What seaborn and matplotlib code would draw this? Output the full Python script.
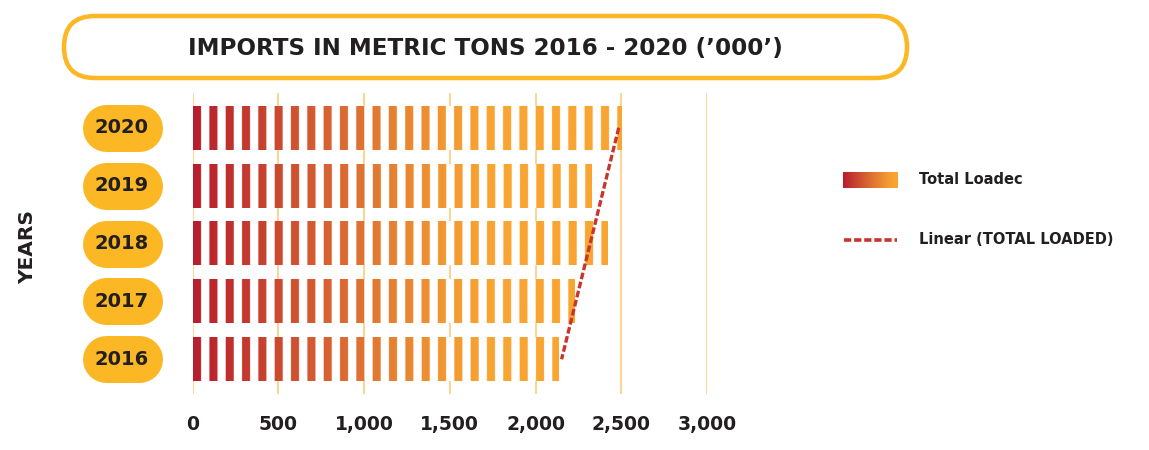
import numpy as np
import pandas as pd
import matplotlib
matplotlib.use("Agg")
import matplotlib.pyplot as plt
import seaborn as sns
from matplotlib.colors import LinearSegmentedColormap, to_rgba
from matplotlib.patches import FancyBboxPatch
from matplotlib.lines import Line2D
from matplotlib.transforms import IdentityTransform

# ---- data ----
years = ["2020", "2019", "2018", "2017", "2016"]
loaded = [2500, 2321, 2416, 2226, 2131]
x_ticks = [0, 500, 1000, 1500, 2000, 2500, 3000]
x_tick_labels = ["0", "500", "1,000", "1,500", "2,000", "2,500", "3,000"]
title = "IMPORTS IN METRIC TONS 2016 - 2020 (\u2019000\u2019)"
legend_bar = "Total Loadec"
legend_line = "Linear (TOTAL LOADED)"

# ---- style ----
sns.set_theme(style="white")
plt.rcParams["font.family"] = ["DejaVu Sans"]
DARK = "#231F20"
YEL = "#FBB724"
GRID = "#FCD18A"
RED = "#C8352B"

W, H = 1149, 450
fig = plt.figure(figsize=(W / 100, H / 100), dpi=100)
fig.patch.set_facecolor("white")

def fx(px):
    return px / W

def fy(py):
    return 1 - py / H

ax = fig.add_axes([fx(192.5), fy(394), fx(707 - 192.5), (394 - 93) / H])

df = pd.DataFrame({"year": years, "loaded": loaded})
sns.barplot(data=df, x="loaded", y="year", order=years, orient="h",
            width=0.76, ax=ax, color="white", zorder=2)

cmap = LinearSegmentedColormap.from_list(
    "grad",
    [(0.0, "#B81D2E"), (500 / 3000, "#CB4A30"), (1000 / 3000, "#DF7532"),
     (1500 / 3000, "#F39A31"), (1750 / 3000, "#F9A532"), (1.0, "#F9A532")])

period = 95.1
on = 47.0
for patch in ax.patches:
    patch.set_facecolor("white")
    patch.set_edgecolor("none")
    patch.set_zorder(2)
    x0 = patch.get_x()
    w = patch.get_width()
    y0 = patch.get_y()
    h = patch.get_height()
    xs = np.linspace(x0, x0 + w, int(w * 2))
    cols = cmap(xs / 3000.0)
    gap = (xs % period) >= on
    cols[gap] = to_rgba("white")
    ax.imshow(cols[np.newaxis, :, :], extent=(x0, x0 + w, y0 + h, y0),
              aspect="auto", interpolation="antialiased", zorder=3)

# trend line
pos = np.arange(len(years))
coef = np.polyfit(pos, loaded, 1)
fit = np.polyval(coef, pos)
ax.plot(fit, pos, color=RED, lw=2.4, linestyle=(0, (2, 0.8)), zorder=5)

ax.set_xlim(0, 3000)
ax.set_ylim(4.6, -0.6)
ax.set_xticks(x_ticks)
ax.set_xticklabels(x_tick_labels, fontsize=13.5, fontweight="bold", color=DARK)
ax.tick_params(axis="x", length=0, pad=15)
ax.set_yticks([])
ax.set_xlabel("")
ax.set_ylabel("")
for s in ax.spines.values():
    s.set_visible(False)
ax.set_axisbelow(True)
ax.xaxis.grid(True, color=GRID, lw=1.3)
for gl in ax.get_xgridlines():
    gl.set_zorder(0.5)

# year pills
fig.canvas.draw()
for i, yr in enumerate(years):
    _, ydisp = ax.transData.transform((0, i))
    yf = ydisp / (H)
    fig.add_artist(Line2D([fx(105.5), fx(138.5)], [yf, yf], color=YEL,
                          lw=47 * 0.72, solid_capstyle="round",
                          transform=fig.transFigure))
    fig.text(fx(122), yf, yr, ha="center", va="center", fontsize=14,
             fontweight="bold", color=DARK)

# y label
fig.text(fx(28), fy(247), "YEARS", rotation=90, ha="center", va="center",
         fontsize=14.5, fontweight="bold", color=DARK)

# title box
box = FancyBboxPatch((64, H - 78), 843, 62,
                     boxstyle="round,pad=0,rounding_size=31",
                     transform=IdentityTransform(), facecolor="white",
                     edgecolor=YEL, lw=4.5 * 0.72)
fig.add_artist(box)
fig.text(fx(485), fy(49), title, ha="center", va="center", fontsize=16.6,
         fontweight="bold", color=DARK)

# legend
lax = fig.add_axes([fx(843), fy(188), fx(55), 16 / H])
gx = np.linspace(0, 1, 200)
lax.imshow(cmap(np.clip(gx * 1750 / 3000 * 1.05, 0, 1))[np.newaxis, :, :],
           aspect="auto", extent=(0, 1, 0, 1))
lax.axis("off")
fig.text(fx(919), fy(180), legend_bar, ha="left", va="center", fontsize=10.5,
         fontweight="bold", color=DARK)
fig.add_artist(Line2D([fx(844), fx(897)], [fy(240), fy(240)], color=RED,
                      lw=2.6, linestyle=(0, (2, 0.8)),
                      transform=fig.transFigure))
fig.text(fx(919), fy(240), legend_line, ha="left", va="center", fontsize=10.5,
         fontweight="bold", color=DARK)

fig.savefig("out.png", dpi=100, facecolor="white")
